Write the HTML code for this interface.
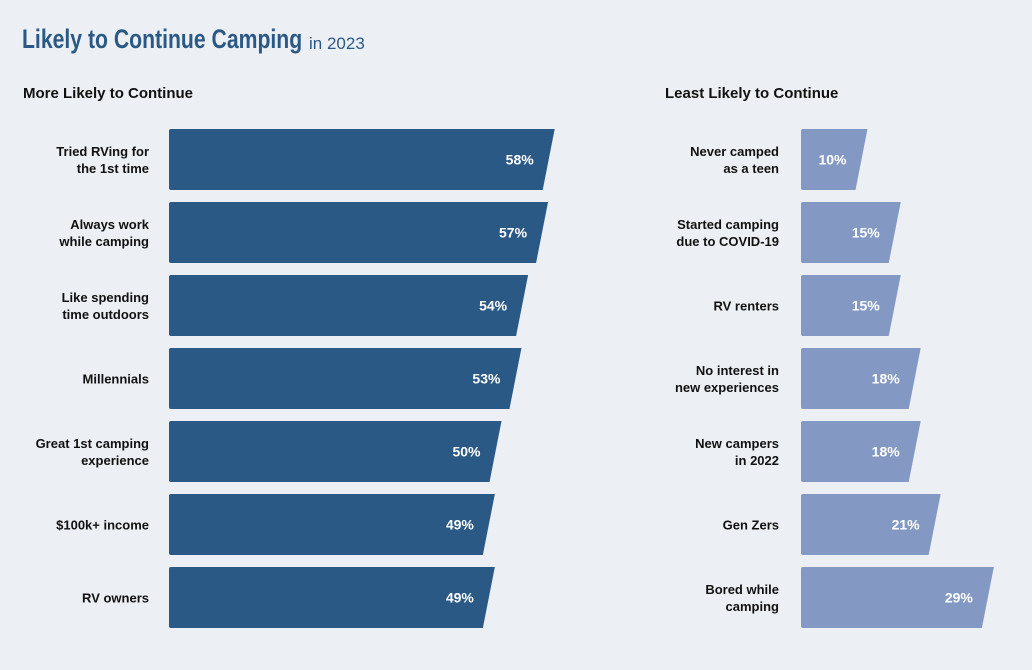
<!DOCTYPE html>
<html><head><meta charset="utf-8"><style>
body{margin:0;background:#eceff4;}
svg{display:block;font-family:"Liberation Sans",sans-serif;}
</style></head><body>
<svg width="1032" height="670">
<rect width="1032" height="670" fill="#eceff4"/>
<g>
<text x="22" y="48" font-size="27" font-weight="bold" fill="#2b5986" transform="translate(22 0) scale(0.785 1) translate(-22 0)">Likely to Continue Camping</text>
<text x="309" y="49" font-size="17" fill="#2b5986">in 2023</text>
</g>
<text x="23" y="98" font-size="15" font-weight="bold" fill="#111">More Likely to Continue</text>
<text x="665" y="98" font-size="15" font-weight="bold" fill="#111">Least Likely to Continue</text>
<g id="left"></g>
<g id="right"></g>
</svg>
<script>
const leftLabels=[["Tried RVing for","the 1st time"],["Always work","while camping"],["Like spending","time outdoors"],["Millennials"],["Great 1st camping","experience"],["$100k+ income"],["RV owners"]];
const leftValues=[58,57,54,53,50,49,49];
const rightLabels=[["Never camped","as a teen"],["Started camping","due to COVID-19"],["RV renters"],["No interest in","new experiences"],["New campers","in 2022"],["Gen Zers"],["Bored while","camping"]];
const rightValues=[10,15,15,18,18,21,29];
const NS="http://www.w3.org/2000/svg";
const scale=v=>v*6.65;
const rowY=i=>129+73*i;
function draw(g,labels,values,x0,labelX,color){
  values.forEach((v,i)=>{
    const y=rowY(i),h=61,w=scale(v);
    const p=document.createElementNS(NS,"path");
    p.setAttribute("d",`M${x0+2},${y} L${x0+w},${y} L${x0+w-12},${y+h} L${x0+2},${y+h} Q${x0},${y+h} ${x0},${y+h-2} L${x0},${y+2} Q${x0},${y} ${x0+2},${y} Z`);
    p.setAttribute("fill",color);
    
    
    g.appendChild(p);
    const t=document.createElementNS(NS,"text");
    t.setAttribute("x",x0+w-21);t.setAttribute("y",y+h/2+5);
    t.setAttribute("text-anchor","end");t.setAttribute("font-size","14");t.setAttribute("font-weight","bold");t.setAttribute("fill","#fff");
    t.textContent=v+"%";
    
    
    g.appendChild(t);
    const lines=labels[i];
    lines.forEach((ln,k)=>{
      const l=document.createElementNS(NS,"text");
      const cy=y+h/2+5+(k-(lines.length-1)/2)*17;
      l.setAttribute("x",labelX);l.setAttribute("y",cy);
      l.setAttribute("text-anchor","end");l.setAttribute("font-size","13");l.setAttribute("font-weight","bold");l.setAttribute("fill","#111");
      l.textContent=ln;
      
      
      g.appendChild(l);
    });
  });
}
draw(document.getElementById("left"),leftLabels,leftValues,169,149,"#2b5986");
draw(document.getElementById("right"),rightLabels,rightValues,801,779,"#8399c4");
</script>
</body></html>
